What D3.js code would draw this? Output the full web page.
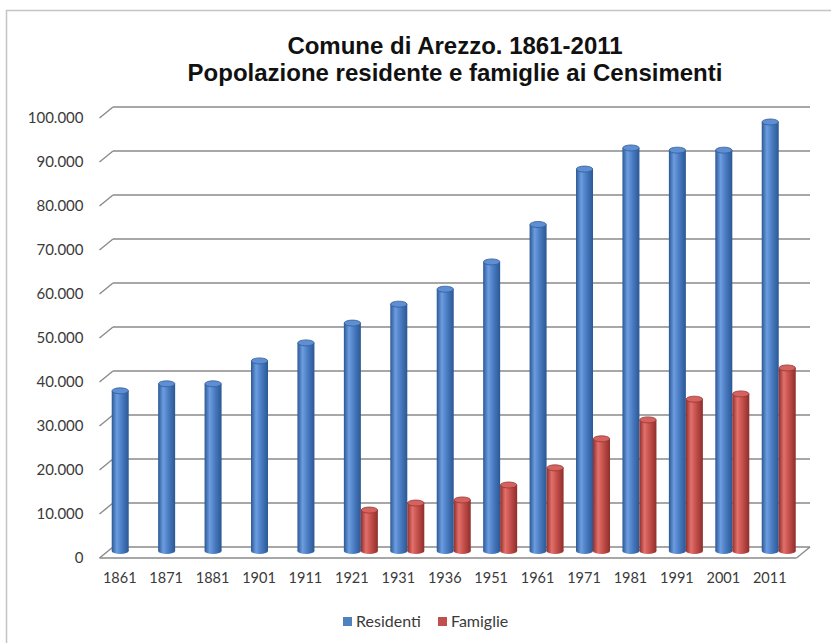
<!DOCTYPE html>
<html>
<head>
<meta charset="utf-8">
<script src="https://cdn.jsdelivr.net/npm/d3@7"></script>
<style>
  html, body { margin: 0; padding: 0; background: #ffffff; }
  svg { display: block; }
</style>
</head>
<body>
<svg id="chart" width="831" height="643"></svg>
<script>
// Censimenti del Comune di Arezzo
const years = ["1861", "1871", "1881", "1901", "1911", "1921", "1931", "1936",
               "1951", "1961", "1971", "1981", "1991", "2001", "2011"];
const residenti = [36400, 38000, 38000, 43200, 47300, 51800, 56100, 59500,
                   65700, 74200, 86800, 91600, 91100, 91100, 97500];
const famiglie = [null, null, null, null, null, 9300, 10900, 11600,
                  15000, 18900, 25500, 29800, 34500, 35700, 41600];
const yTicks = [0, 10000, 20000, 30000, 40000, 50000, 60000, 70000, 80000, 90000, 100000];
const seriesNames = ["Residenti", "Famiglie"];
const titleLines = ["Comune di Arezzo. 1861-2011", "Popolazione residente e famiglie ai Censimenti"];

const svg = d3.select("#chart");

// Italian number format: 100.000
const it = d3.formatLocale({ decimal: ",", thousands: ".", grouping: [3], currency: ["€", ""] });
const fmt = it.format(",");

// pseudo-3D geometry: back wall, floor depth offset
const depth = { dx: 13.5, dy: -11 };
const wallLeft = 113, wallRight = 810;

const yBack = d3.scaleLinear().domain([0, 100000]).range([547, 107]);
const yFront = d3.scaleLinear().domain([0, 100000]).range([547 - depth.dy, 107 - depth.dy]);
const yBar = d3.scaleLinear().domain([0, 100000]).range([551, 111]);
const x = d3.scaleBand().domain(years).range([96.5, 96.5 + 15 * 46.43]);

const colors = {
  blue: { edge: "#2b5894", light: "#6d9de0", mid: "#4a7cc2", top: "#5f8fd2", stroke: "#2f5d99" },
  red:  { edge: "#8f2e2b", light: "#e2706b", mid: "#c44f4b", top: "#d4635f", stroke: "#973532" }
};

// outer frame
svg.append("rect")
  .attr("x", 6.5).attr("y", 10.5).attr("width", 840).attr("height", 660)
  .attr("fill", "none").attr("stroke", "#c4c4c4").attr("stroke-width", 1.5);

// cylinder gradients
const defs = svg.append("defs");
Object.entries(colors).forEach(([k, c]) => {
  const g = defs.append("linearGradient").attr("id", "cyl-" + k)
    .attr("x1", 0).attr("x2", 1).attr("y1", 0).attr("y2", 0);
  g.append("stop").attr("offset", "0%").attr("stop-color", c.edge);
  g.append("stop").attr("offset", "30%").attr("stop-color", c.light);
  g.append("stop").attr("offset", "60%").attr("stop-color", c.mid);
  g.append("stop").attr("offset", "100%").attr("stop-color", c.edge);
});

// title
svg.append("g").selectAll("text").data(titleLines).join("text")
  .attr("x", 455).attr("y", (d, i) => 54 + i * 27)
  .attr("text-anchor", "middle")
  .attr("font-family", "'Liberation Sans', Arial, sans-serif")
  .attr("font-weight", "bold").attr("font-size", 24)
  .attr("fill", "#111")
  .text(d => d);

// gridlines on back wall and left-wall diagonals
const grid = svg.append("g").attr("stroke", "#8a8a8a").attr("stroke-width", 1.4).attr("fill", "none");
grid.selectAll("line.back").data(yTicks).join("line").attr("class", "back")
  .attr("x1", wallLeft).attr("x2", wallRight)
  .attr("y1", d => yBack(d)).attr("y2", d => yBack(d));
grid.selectAll("line.side").data(yTicks).join("line").attr("class", "side")
  .attr("x1", wallLeft - depth.dx).attr("y1", d => yFront(d))
  .attr("x2", wallLeft).attr("y2", d => yBack(d));

// floor front edge and right corner
grid.append("line")
  .attr("x1", wallLeft - depth.dx).attr("y1", yFront(0))
  .attr("x2", wallRight - depth.dx).attr("y2", yFront(0));
grid.append("line")
  .attr("x1", wallRight - depth.dx).attr("y1", yFront(0))
  .attr("x2", wallRight).attr("y2", yBack(0));

// y axis labels on the front plane
const yAxis = d3.axisLeft(yFront).tickValues(yTicks).tickFormat(fmt).tickSize(0).tickPadding(16);
const yg = svg.append("g").attr("transform", `translate(${wallLeft - depth.dx},0)`).call(yAxis);
yg.select(".domain").remove();
yg.selectAll("text")
  .attr("font-family", "Lato, 'Noto Sans', sans-serif").attr("font-size", 15)
  .attr("fill", "#3a3a3a");

// x axis labels
const xAxis = d3.axisBottom(x).tickSize(0).tickPadding(0);
const xg = svg.append("g").attr("transform", "translate(0,573)").call(xAxis);
xg.select(".domain").remove();
xg.selectAll("text")
  .attr("font-family", "Lato, 'Noto Sans', sans-serif").attr("font-size", 14.5)
  .attr("fill", "#3a3a3a");

// cylinders
const barW = 17, ry = 3;
const bars = [];
years.forEach((yr, i) => {
  const c = x(yr) + x.bandwidth() / 2;
  bars.push({ year: yr, value: residenti[i], cx: c + 0.5, key: "blue" });
  if (famiglie[i] != null) bars.push({ year: yr, value: famiglie[i], cx: c + 17.5, key: "red" });
});

const bg = svg.append("g");
const cyl = bg.selectAll("g.cyl").data(bars).join("g").attr("class", "cyl");
cyl.append("ellipse")
  .attr("cx", d => d.cx).attr("cy", yBar(0))
  .attr("rx", barW / 2).attr("ry", ry)
  .attr("fill", d => `url(#cyl-${d.key})`);
cyl.append("rect")
  .attr("x", d => d.cx - barW / 2).attr("width", barW)
  .attr("y", d => yBar(d.value)).attr("height", d => yBar(0) - yBar(d.value))
  .attr("fill", d => `url(#cyl-${d.key})`);
cyl.append("ellipse")
  .attr("cx", d => d.cx).attr("cy", d => yBar(d.value))
  .attr("rx", barW / 2 - 0.3).attr("ry", ry)
  .attr("fill", d => colors[d.key].top)
  .attr("stroke", d => colors[d.key].stroke).attr("stroke-width", 0.8);

// legend
const legendItems = [
  { name: seriesNames[0], color: "#4f81bd", x: 343 },
  { name: seriesNames[1], color: "#c0504d", x: 438 }
];
const lg = svg.append("g").selectAll("g").data(legendItems).join("g")
  .attr("transform", d => `translate(${d.x},617)`);
lg.append("rect").attr("width", 9).attr("height", 9).attr("fill", d => d.color);
lg.append("text").attr("x", 13).attr("y", 10)
  .attr("font-family", "Lato, 'Noto Sans', sans-serif").attr("font-size", 16)
  .attr("fill", "#3a3a3a").text(d => d.name);
</script>
</body>
</html>
